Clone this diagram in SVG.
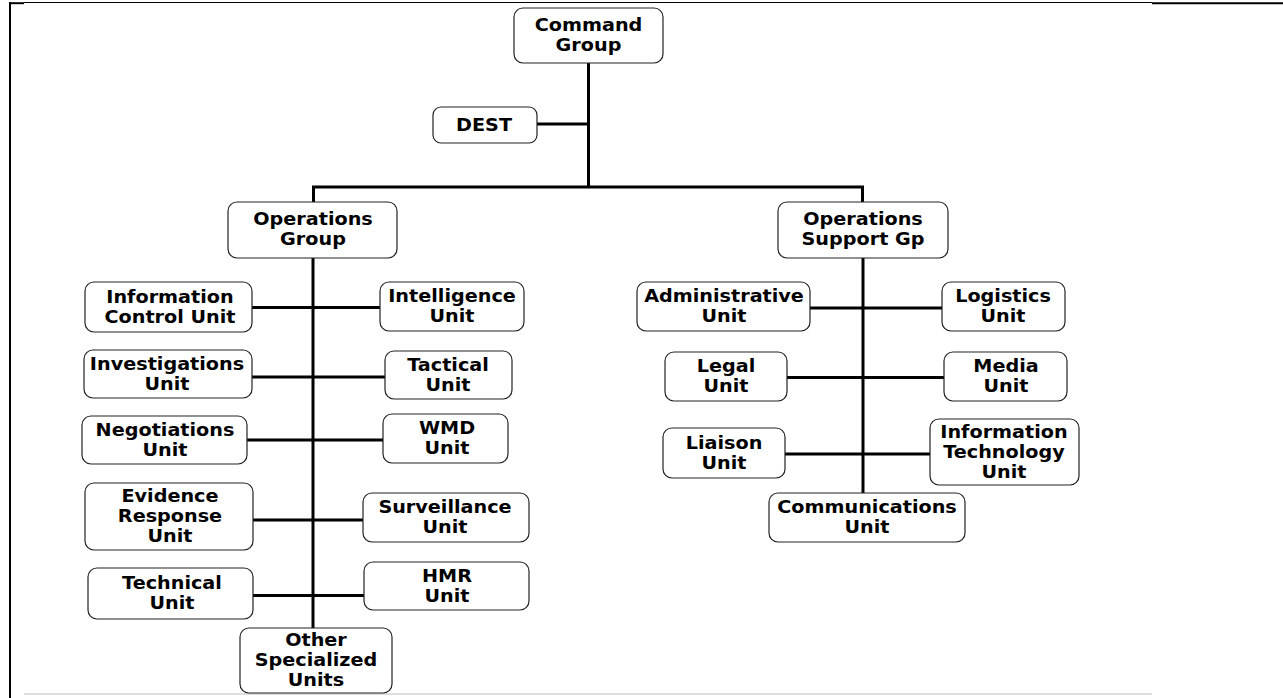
<svg xmlns="http://www.w3.org/2000/svg" width="1283" height="698" viewBox="0 0 1283 698">
<style>
.box{fill:#fff;stroke:#222;stroke-width:1.2}
.lbl{font-family:"DejaVu Sans",Verdana,sans-serif;font-weight:bold;font-size:17px;fill:#000;text-anchor:middle}
.con{stroke:#000;stroke-width:3;fill:none}
.frame{stroke:#000;fill:none}
</style>
<rect width="1283" height="698" fill="#fff"/>
<g id="frame">
<line class="frame" x1="24" y1="2.5" x2="1152" y2="2.5" stroke-width="1"/>
<line class="frame" x1="9" y1="3.2" x2="24" y2="3.2" stroke-width="2"/>
<line class="frame" x1="1152" y1="3.2" x2="1283" y2="3.2" stroke-width="2"/>
<line class="frame" x1="10" y1="2" x2="10" y2="698" stroke-width="2"/>
<line x1="24" y1="694" x2="1152" y2="694" stroke="#ddd" stroke-width="2"/>
</g>
<g id="connectors">
<line class="con" x1="588.5" y1="63" x2="588.5" y2="187"/>
<line class="con" x1="537" y1="124" x2="588.5" y2="124"/>
<polyline class="con" points="313.5,202 313.5,187 862.5,187 862.5,202"/>
<line class="con" x1="313" y1="258" x2="313" y2="628"/>
<line class="con" x1="252" y1="307.5" x2="380" y2="307.5"/>
<line class="con" x1="252" y1="377" x2="385" y2="377"/>
<line class="con" x1="247" y1="440" x2="383" y2="440"/>
<line class="con" x1="253" y1="520" x2="363" y2="520"/>
<line class="con" x1="253" y1="595.5" x2="364" y2="595.5"/>
<line class="con" x1="863" y1="258" x2="863" y2="493"/>
<line class="con" x1="810" y1="308" x2="942" y2="308"/>
<line class="con" x1="787" y1="377.5" x2="944" y2="377.5"/>
<line class="con" x1="785" y1="454" x2="930" y2="454"/>
</g>
<g id="command-group">
<rect class="box" x="514" y="8" width="149" height="55" rx="9"/>
<text class="lbl" transform="translate(588.5 0) scale(1.13 1)" x="0" y="31.5">Command<tspan x="0" dy="20">Group</tspan></text>
</g>
<g id="dest">
<rect class="box" x="433" y="107" width="104" height="36" rx="8"/>
<text class="lbl" transform="translate(484 0) scale(1.13 1)" x="0" y="131">DEST</text>
</g>
<g id="operations-group">
<rect class="box" x="228" y="202" width="169" height="56" rx="9"/>
<text class="lbl" transform="translate(313 0) scale(1.13 1)" x="0" y="225.5">Operations<tspan x="0" dy="20">Group</tspan></text>
</g>
<g id="operations-support-gp">
<rect class="box" x="778" y="202" width="170" height="56" rx="9"/>
<text class="lbl" transform="translate(863 0) scale(1.13 1)" x="0" y="225.5">Operations<tspan x="0" dy="20">Support Gp</tspan></text>
</g>
<g id="information-control-unit">
<rect class="box" x="85" y="282" width="167" height="50" rx="9"/>
<text class="lbl" transform="translate(170 0) scale(1.13 1)" x="0" y="303">Information<tspan x="0" dy="20">Control Unit</tspan></text>
</g>
<g id="intelligence-unit">
<rect class="box" x="380" y="282" width="144" height="49" rx="9"/>
<text class="lbl" transform="translate(452 0) scale(1.13 1)" x="0" y="302.5">Intelligence<tspan x="0" dy="20">Unit</tspan></text>
</g>
<g id="investigations-unit">
<rect class="box" x="84" y="350" width="168" height="48" rx="9"/>
<text class="lbl" transform="translate(167 0) scale(1.13 1)" x="0" y="370">Investigations<tspan x="0" dy="20">Unit</tspan></text>
</g>
<g id="tactical-unit">
<rect class="box" x="385" y="351" width="127" height="48" rx="9"/>
<text class="lbl" transform="translate(448 0) scale(1.13 1)" x="0" y="371">Tactical<tspan x="0" dy="20">Unit</tspan></text>
</g>
<g id="negotiations-unit">
<rect class="box" x="82" y="416" width="165" height="48" rx="9"/>
<text class="lbl" transform="translate(165 0) scale(1.13 1)" x="0" y="436">Negotiations<tspan x="0" dy="20">Unit</tspan></text>
</g>
<g id="wmd-unit">
<rect class="box" x="383" y="414" width="125" height="49" rx="9"/>
<text class="lbl" transform="translate(447 0) scale(1.13 1)" x="0" y="434.5">WMD<tspan x="0" dy="20">Unit</tspan></text>
</g>
<g id="evidence-response-unit">
<rect class="box" x="85" y="483" width="168" height="67" rx="9"/>
<text class="lbl" transform="translate(170 0) scale(1.13 1)" x="0" y="502.5">Evidence<tspan x="0" dy="20">Response</tspan><tspan x="0" dy="20">Unit</tspan></text>
</g>
<g id="surveillance-unit">
<rect class="box" x="363" y="493" width="166" height="49" rx="9"/>
<text class="lbl" transform="translate(445 0) scale(1.13 1)" x="0" y="513.5">Surveillance<tspan x="0" dy="20">Unit</tspan></text>
</g>
<g id="technical-unit">
<rect class="box" x="88" y="568" width="165" height="51" rx="9"/>
<text class="lbl" transform="translate(172 0) scale(1.13 1)" x="0" y="589.5">Technical<tspan x="0" dy="20">Unit</tspan></text>
</g>
<g id="hmr-unit">
<rect class="box" x="364" y="562" width="165" height="48" rx="9"/>
<text class="lbl" transform="translate(447 0) scale(1.13 1)" x="0" y="582">HMR<tspan x="0" dy="20">Unit</tspan></text>
</g>
<g id="other-specialized-units">
<rect class="box" x="240" y="628" width="152" height="65" rx="9"/>
<text class="lbl" transform="translate(316 0) scale(1.13 1)" x="0" y="646.5">Other<tspan x="0" dy="20">Specialized</tspan><tspan x="0" dy="20">Units</tspan></text>
</g>
<g id="administrative-unit">
<rect class="box" x="637" y="282" width="173" height="49" rx="9"/>
<text class="lbl" transform="translate(724 0) scale(1.13 1)" x="0" y="302.5">Administrative<tspan x="0" dy="20">Unit</tspan></text>
</g>
<g id="logistics-unit">
<rect class="box" x="942" y="282" width="123" height="49" rx="9"/>
<text class="lbl" transform="translate(1003 0) scale(1.13 1)" x="0" y="302.5">Logistics<tspan x="0" dy="20">Unit</tspan></text>
</g>
<g id="legal-unit">
<rect class="box" x="665" y="352" width="122" height="49" rx="9"/>
<text class="lbl" transform="translate(726 0) scale(1.13 1)" x="0" y="372.5">Legal<tspan x="0" dy="20">Unit</tspan></text>
</g>
<g id="media-unit">
<rect class="box" x="944" y="352" width="123" height="49" rx="9"/>
<text class="lbl" transform="translate(1006 0) scale(1.13 1)" x="0" y="372.5">Media<tspan x="0" dy="20">Unit</tspan></text>
</g>
<g id="liaison-unit">
<rect class="box" x="663" y="428" width="122" height="50" rx="9"/>
<text class="lbl" transform="translate(724 0) scale(1.13 1)" x="0" y="449">Liaison<tspan x="0" dy="20">Unit</tspan></text>
</g>
<g id="information-technology-unit">
<rect class="box" x="930" y="419" width="149" height="66" rx="9"/>
<text class="lbl" transform="translate(1004 0) scale(1.13 1)" x="0" y="438">Information<tspan x="0" dy="20">Technology</tspan><tspan x="0" dy="20">Unit</tspan></text>
</g>
<g id="communications-unit">
<rect class="box" x="769" y="493" width="196" height="49" rx="9"/>
<text class="lbl" transform="translate(867 0) scale(1.13 1)" x="0" y="513.5">Communications<tspan x="0" dy="20">Unit</tspan></text>
</g>
</svg>
